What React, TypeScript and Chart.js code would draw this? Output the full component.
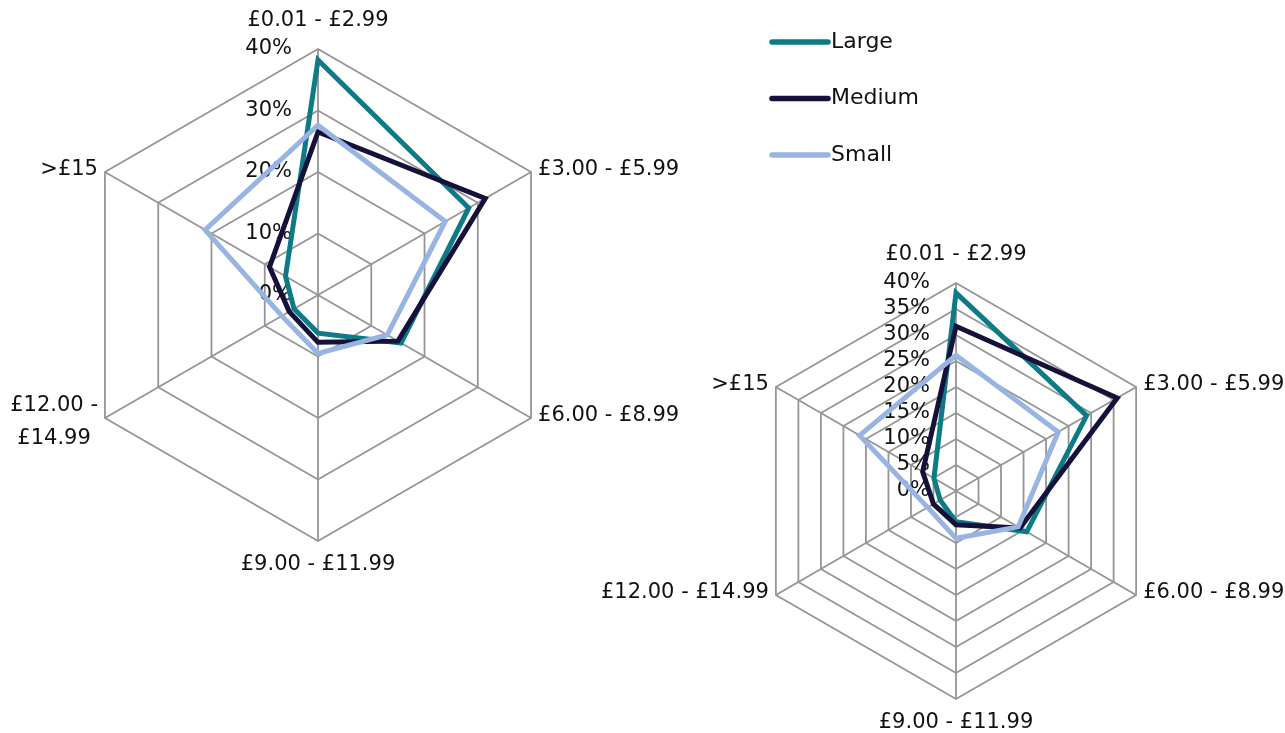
import React, { useEffect, useRef } from "react";
import { Chart, registerables } from "chart.js";

Chart.register(...registerables);

// ---------- data ----------
const CATEGORIES = ["£0.01 - £2.99", "£3.00 - £5.99", "£6.00 - £8.99", "£9.00 - £11.99", "£12.00 - £14.99", ">£15"];
const SERIES_NAMES = ["Large", "Medium", "Small"];
const SERIES_COLORS = ["#0C7B86", "#15113A", "#97B4E2"];

// left radar (values in %)
const CHART1_LARGE = [38.2, 28.3, 15.6, 6.2, 4.5, 6.1];
const CHART1_MEDIUM = [26.5, 31.4, 15.0, 7.7, 5.4, 9.1];
const CHART1_SMALL = [27.6, 23.9, 13.0, 9.5, 6.8, 21.2];

// right radar (values in %)
const CHART2_LARGE = [38.1, 29.0, 15.7, 5.9, 3.5, 4.9];
const CHART2_MEDIUM = [31.7, 35.8, 14.2, 6.5, 5.0, 7.4];
const CHART2_SMALL = [26.1, 22.7, 13.8, 9.1, 6.3, 21.4];

const AXIS_MIN = 0;
const AXIS_MAX = 40;
const CHART1_TICK_STEP = 10;
const CHART2_TICK_STEP = 5;

// ---------- style ----------
const W = 1285;
const H = 733;
const FONT = '21px "DejaVu Sans"';
const TICK_FONT = '21px "DejaVu Sans"';
const LEGEND_FONT = '22px "DejaVu Sans"';
const TEXT_COLOR = "#111111";
const GRID_COLOR = "#959595";

function wrapText(ctx: CanvasRenderingContext2D, text: string, maxW: number): string[] {
  if (ctx.measureText(text).width <= maxW) return [text];
  const words = text.split(" ");
  const lines: string[] = [];
  let cur = "";
  for (const w of words) {
    const trial = cur ? cur + " " + w : w;
    if (ctx.measureText(trial).width <= maxW || !cur) cur = trial;
    else {
      lines.push(cur);
      cur = w;
    }
  }
  if (cur) lines.push(cur);
  return lines;
}

const radarTextPlugin = {
  id: "radarText",
  beforeDatasetsDraw(chart: any) {
    const scale = chart.scales.r;
    const ctx: CanvasRenderingContext2D = chart.ctx;
    ctx.save();
    ctx.font = TICK_FONT;
    ctx.fillStyle = TEXT_COLOR;
    ctx.textAlign = "right";
    ctx.textBaseline = "middle";
    scale.ticks.forEach((t: any) => {
      const d = scale.getDistanceFromCenterForValue(t.value);
      ctx.fillText(`${t.value}%`, scale.xCenter - 26, scale.yCenter - d);
    });
    ctx.restore();
  },
  afterDraw(chart: any, _args: any, opts: any) {
    const scale = chart.scales.r;
    const ctx: CanvasRenderingContext2D = chart.ctx;
    ctx.save();
    ctx.font = FONT;
    ctx.fillStyle = TEXT_COLOR;
    ctx.textBaseline = "middle";
    const gap = 7;
    const lineH = 33;
    (chart.data.labels as string[]).forEach((label, i) => {
      const p = scale.getPointPosition(i, scale.drawingArea);
      const c = Math.cos(p.angle);
      const s = Math.sin(p.angle);
      if (Math.abs(c) < 0.1) {
        ctx.textAlign = "center";
        const y = s < 0 ? p.y - 28 : p.y + 24;
        ctx.fillText(label, p.x, y);
      } else {
        const avail = c > 0 ? chart.width - (p.x + gap) + 4 : p.x - gap;
        const lines = wrapText(ctx, label, avail);
        const widths = lines.map((l) => ctx.measureText(l).width);
        const bw = Math.max(...widths);
        if (lines.length === 1) {
          ctx.textAlign = c > 0 ? "left" : "right";
          ctx.fillText(label, c > 0 ? p.x + gap : p.x - gap, p.y - 2);
        } else {
          ctx.textAlign = "center";
          const y0 = p.y + 4 - ((lines.length - 1) * lineH) / 2;
          const cx = c > 0 ? p.x + gap + bw / 2 : p.x - gap - bw / 2;
          lines.forEach((l, k) => ctx.fillText(l, cx, y0 + k * lineH));
        }
      }
    });

    if (opts && opts.legend) {
      const lg = opts.legend;
      ctx.font = LEGEND_FONT;
      ctx.textAlign = "left";
      chart.data.datasets.forEach((ds: any, k: number) => {
        const y = lg.y + k * lg.spacing;
        ctx.strokeStyle = ds.borderColor;
        ctx.lineWidth = 5.5;
        ctx.lineCap = "round";
        ctx.beginPath();
        ctx.moveTo(lg.x, y);
        ctx.lineTo(lg.x + lg.len, y);
        ctx.stroke();
        ctx.fillStyle = TEXT_COLOR;
        ctx.fillText(ds.label, lg.x + lg.len + 3, y);
      });
    }
    ctx.restore();
  },
};

function makeConfig(series: number[][], step: number, cx: number, cy: number, R: number, legend: any) {
  return {
    type: "radar" as const,
    data: {
      labels: CATEGORIES,
      datasets: series.map((vals, i) => ({
        label: SERIES_NAMES[i],
        data: vals,
        borderColor: SERIES_COLORS[i],
        backgroundColor: "transparent",
        borderWidth: 5,
        borderJoinStyle: "miter" as const,
        pointRadius: 0,
        pointHoverRadius: 0,
        fill: false,
        tension: 0,
        order: series.length - i,
      })),
    },
    options: {
      responsive: false,
      animation: false as const,
      events: [],
      layout: {
        padding: { left: cx - R, top: cy - R, right: W - (cx + R), bottom: H - (cy + R) },
      },
      plugins: {
        legend: { display: false },
        tooltip: { enabled: false },
        radarText: { legend },
      },
      scales: {
        r: {
          min: AXIS_MIN,
          max: AXIS_MAX,
          ticks: { stepSize: step, display: false },
          pointLabels: { display: false },
          grid: { color: GRID_COLOR, lineWidth: 1.8 },
          angleLines: { color: GRID_COLOR, lineWidth: 1.8 },
        },
      },
    },
    plugins: [radarTextPlugin],
  };
}

export default function App() {
  const ref1 = useRef<HTMLCanvasElement>(null);
  const ref2 = useRef<HTMLCanvasElement>(null);

  useEffect(() => {
    const c1 = new Chart(
      ref1.current!,
      makeConfig([CHART1_LARGE, CHART1_MEDIUM, CHART1_SMALL], CHART1_TICK_STEP, 318, 295, 246, {
        x: 772,
        y: 42,
        spacing: 56.5,
        len: 56,
      }) as any
    );
    const c2 = new Chart(
      ref2.current!,
      makeConfig([CHART2_LARGE, CHART2_MEDIUM, CHART2_SMALL], CHART2_TICK_STEP, 956, 491, 208, null) as any
    );
    return () => {
      c1.destroy();
      c2.destroy();
    };
  }, []);

  const canvasStyle: React.CSSProperties = { position: "absolute", left: 0, top: 0, width: W, height: H };
  return (
    <div style={{ position: "absolute", left: 0, top: 0, width: W, height: H, background: "#fff" }}>
      <canvas ref={ref1} width={W} height={H} style={canvasStyle} />
      <canvas ref={ref2} width={W} height={H} style={canvasStyle} />
    </div>
  );
}
